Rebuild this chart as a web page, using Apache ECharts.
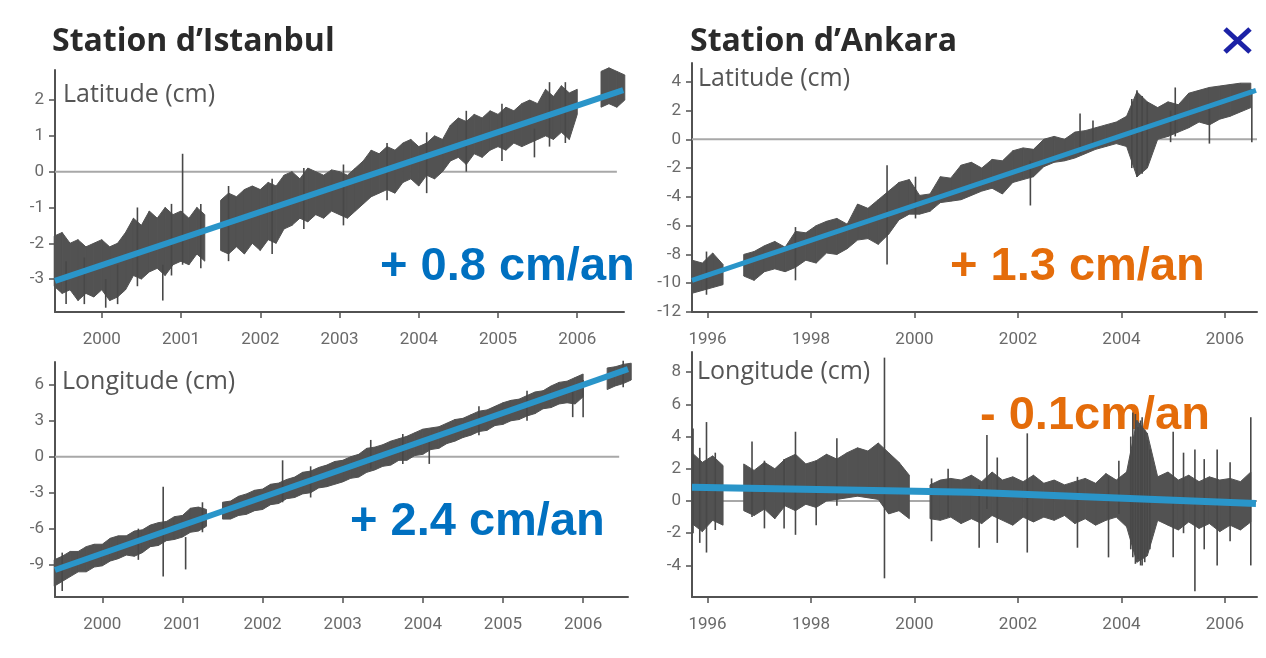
<!DOCTYPE html>
<html>
<head>
<meta charset="utf-8">
<title>Stations GPS Istanbul / Ankara</title>
<script src="https://cdn.jsdelivr.net/npm/echarts@6/dist/echarts.min.js"></script>
<style>
html, body { margin: 0; padding: 0; background: #fff; }
#chart { width: 1266px; height: 658px; }
</style>
</head>
<body>
<div id="chart"></div>
<script>
// ---- Istanbul (pas de 0,1 an) ----
var istYears = [1999.4, 1999.5, 1999.6, 1999.7, 1999.8, 1999.9, 2000.0, 2000.1, 2000.2, 2000.3,
	2000.4, 2000.5, 2000.6, 2000.7, 2000.8, 2000.9, 2001.0, 2001.1, 2001.2, 2001.3,
	2001.4, 2001.5, 2001.6, 2001.7, 2001.8, 2001.9, 2002.0, 2002.1, 2002.2, 2002.3,
	2002.4, 2002.5, 2002.6, 2002.7, 2002.8, 2002.9, 2003.0, 2003.1, 2003.2, 2003.3,
	2003.4, 2003.5, 2003.6, 2003.7, 2003.8, 2003.9, 2004.0, 2004.1, 2004.2, 2004.3,
	2004.4, 2004.5, 2004.6, 2004.7, 2004.8, 2004.9, 2005.0, 2005.1, 2005.2, 2005.3,
	2005.4, 2005.5, 2005.6, 2005.7, 2005.8, 2005.9, 2006.0, 2006.1, 2006.2, 2006.3,
	2006.4, 2006.5, 2006.6];
// latitude : bornes haute / basse du nuage gris
var istLatHi = [-1.8, -1.7, -2.0, -1.9, -2.1, -2.0, -1.9, -2.1, -2.0, -1.7,
	-1.3, -1.5, -1.1, -1.3, -1.0, -1.2, -1.1, -1.3, -1.0, -1.2,
	null, -0.8, -0.6, -0.7, -0.5, -0.4, -0.5, -0.3, -0.4, -0.1,
	0.0, -0.2, 0.1, 0.0, -0.1, 0.05, 0.0, -0.1, 0.1, 0.3,
	0.6, 0.5, 0.7, 0.6, 0.8, 0.9, 0.7, 0.8, 1.0, 0.9,
	1.3, 1.5, 1.4, 1.6, 1.5, 1.7, 1.6, 1.8, 1.7, 1.9,
	2.0, 1.9, 2.3, 2.1, 2.4, 2.2, 2.3, null, null, 2.8,
	2.9, 2.8, 2.7];
var istLatLo = [-3.2, -3.4, -3.3, -3.6, -3.4, -3.5, -3.3, -3.6, -3.5, -3.3,
	-2.9, -3.0, -2.8, -2.7, -2.9, -2.6, -2.5, -2.6, -2.3, -2.5,
	null, -2.2, -2.3, -2.1, -2.3, -2.0, -2.2, -1.9, -2.0, -1.6,
	-1.5, -1.3, -1.4, -1.2, -1.3, -1.1, -1.2, -1.3, -1.1, -0.9,
	-0.7, -0.6, -0.5, -0.6, -0.3, -0.2, -0.4, -0.1, -0.2, 0.0,
	0.3, 0.4, 0.2, 0.5, 0.4, 0.6, 0.7, 0.6, 0.8, 0.7,
	0.8, 0.9, 1.0, 0.9, 1.1, 0.9, 1.6, null, null, 1.8,
	1.9, 1.8, 2.0];
var istLatSpikes = [[1999.55, -3.7, -2.5], [1999.78, -3.7, -2.4], [2000.05, -3.8, -3.0], [2000.2, -3.7, -2.6],
	[2000.45, -3.2, -1.0], [2000.77, -3.6, -2.6], [2000.88, -2.9, -0.9], [2001.02, -2.6, 0.5],
	[2001.25, -2.7, -0.9], [2001.6, -2.5, -0.4], [2002.15, -2.3, -0.2], [2002.55, -1.6, 0.1],
	[2003.05, -1.5, 0.2], [2003.6, -0.8, 0.8], [2004.1, -0.6, 1.1], [2004.6, 0.0, 1.7],
	[2005.05, 0.3, 1.9], [2005.46, 0.4, 1.2], [2005.65, 0.7, 2.5], [2005.85, 0.8, 2.5]];
var istLatTrend = [[1999.41, -3.05], [2006.58, 2.28]];

// longitude
var istLonHi = [-8.6, -8.3, -7.9, -7.9, -7.5, -7.3, -7.3, -6.8, -6.6, -6.6,
	-6.2, -6.1, -5.7, -5.5, -5.4, -5.0, -4.9, -4.3, -4.2, -4.4,
	null, -3.8, -3.7, -3.3, -3.1, -2.8, -2.7, -2.3, -2.2, -1.9,
	-1.7, -1.3, -1.2, -0.9, -0.7, -0.4, -0.3, 0.0, 0.2, 0.7,
	0.8, 1.0, 1.3, 1.5, 1.7, 2.0, 2.3, 2.4, 2.5, 2.8,
	3.1, 3.2, 3.5, 3.8, 3.9, 4.2, 4.5, 4.7, 4.8, 5.1,
	5.4, 5.5, 5.9, 6.2, 6.3, 6.6, 6.9, null, null, 7.4,
	7.5, 7.7, 7.8];
var istLonLo = [-10.8, -10.4, -10.0, -9.6, -9.6, -9.2, -9.1, -8.7, -8.5, -8.2,
	-8.3, -8.0, -7.5, -7.4, -7.0, -6.9, -6.7, -6.3, -6.2, -5.8,
	null, -5.2, -5.2, -4.9, -4.8, -4.5, -4.4, -4.0, -3.9, -3.5,
	-3.4, -3.1, -3.0, -2.6, -2.5, -2.3, -2.1, -1.8, -1.7, -1.3,
	-1.1, -0.8, -0.7, -0.3, -0.3, 0.1, 0.2, 0.6, 0.7, 1.1,
	1.3, 1.6, 1.8, 2.1, 2.2, 2.6, 2.7, 3.0, 3.1, 3.4,
	3.6, 4.0, 4.1, 4.4, 4.5, 4.4, 5.0, null, null, 5.6,
	5.9, 6.1, 6.4];
var istLonSpikes = [[1999.5, -11.2, -8.0], [2000.45, -8.6, -6.0], [2000.76, -10.0, -2.5], [2001.04, -9.4, -6.7],
	[2001.25, -6.3, -3.8], [2002.25, -3.8, -0.3], [2002.6, -3.4, -0.8], [2003.35, -1.0, 1.4],
	[2003.75, -0.6, 1.9], [2004.08, -0.6, 1.5], [2004.7, 1.8, 4.2], [2005.3, 3.0, 5.5],
	[2005.87, 3.3, 5.5], [2006.0, 3.3, 6.4], [2006.5, 5.8, 8.0]];
var istLonTrend = [[1999.41, -9.45], [2006.56, 7.3]];

// ---- Ankara (pas de 0,2 an) ----
var ankYears = [1995.7, 1995.9, 1996.1, 1996.3, 1996.5, 1996.7, 1996.9, 1997.1, 1997.3, 1997.5,
	1997.7, 1997.9, 1998.1, 1998.3, 1998.5, 1998.7, 1998.9, 1999.1, 1999.3, 1999.5,
	1999.7, 1999.9, 2000.1, 2000.3, 2000.5, 2000.7, 2000.9, 2001.1, 2001.3, 2001.5,
	2001.7, 2001.9, 2002.1, 2002.3, 2002.5, 2002.7, 2002.9, 2003.1, 2003.3, 2003.5,
	2003.7, 2003.9, 2004.1, 2004.3, 2004.5, 2004.7, 2004.9, 2005.1, 2005.3, 2005.5,
	2005.7, 2005.9, 2006.1, 2006.3, 2006.5];
var ankLatHi = [-8.4, -8.6, -7.9, -8.7, null, -8.0, -7.8, -7.4, -7.1, -7.5,
	-6.4, -6.5, -6.0, -5.7, -5.5, -5.9, -4.5, -4.8, -4.2, -3.6,
	-3.0, -2.8, -3.9, -3.8, -2.6, -2.7, -1.8, -1.6, -2.0, -1.4,
	-1.5, -0.8, -0.6, -0.7, 0.0, 0.2, 0.0, 0.5, 0.6, 0.8,
	1.0, 1.2, 1.6, 3.3, 2.6, 2.2, 2.6, 2.4, 3.2, 3.4,
	3.6, 3.7, 3.8, 3.9, 3.9];
var ankLatLo = [-10.7, -10.5, -10.3, -10.1, null, -9.5, -9.8, -9.2, -9.0, -9.2,
	-8.9, -8.4, -8.6, -7.9, -8.0, -7.6, -7.0, -6.9, -7.3, -6.6,
	-5.6, -5.2, -5.2, -5.0, -4.4, -4.3, -4.2, -3.9, -3.6, -3.4,
	-3.8, -3.0, -2.8, -2.6, -1.9, -1.6, -1.5, -1.3, -1.0, -0.7,
	-0.5, -0.3, -0.5, -2.6, -2.0, 0.0, 0.2, 0.5, 0.8, 1.2,
	1.0, 1.4, 1.6, 1.9, 2.2];
var ankLatSpikes = [[1995.98, -10.8, -7.8], [1997.7, -9.8, -6.1], [1999.47, -8.7, -1.8], [2000.02, -5.5, -2.6],
	[2002.24, -4.6, -1.5], [2003.2, -1.0, 1.8], [2003.45, -0.5, 1.3], [2004.2, -2.0, 2.8],
	[2004.3, -2.6, 3.4], [2004.4, -2.4, 3.0], [2004.5, -1.8, 2.6], [2004.95, -0.2, 2.0],
	[2005.04, 0.2, 3.6], [2005.7, -0.3, 2.5], [2006.52, -0.2, 3.5]];
var ankLatTrend = [[1995.7, -9.8], [2006.6, 3.4]];

var ankLonHi = [3.0, 2.4, 2.8, 2.2, null, 2.3, 1.9, 2.4, 2.0, 2.6,
	2.9, 2.3, 2.5, 2.9, 2.6, 3.0, 3.3, 3.1, 3.6, 3.0,
	2.4, 1.6, null, 1.0, 1.3, 1.4, 1.3, 1.6, 1.2, 1.8,
	1.3, 1.5, 1.2, 1.6, 1.1, 1.3, 1.0, 1.2, 1.4, 1.1,
	1.7, 1.3, 1.8, 5.0, 4.2, 1.5, 1.8, 1.3, 1.6, 1.2,
	1.5, 1.3, 1.4, 1.2, 1.8];
var ankLonLo = [-1.4, -1.9, -1.2, -1.5, null, -0.6, -0.9, -0.5, -1.1, -0.3,
	-0.6, -0.2, -0.4, 0.0, 0.1, 0.2, 0.3, 0.2, 0.1, -0.8,
	-0.6, -1.1, null, -1.1, -1.2, -1.0, -1.4, -1.1, -1.4, -0.9,
	-1.2, -1.5, -1.0, -1.3, -1.0, -1.2, -0.9, -1.4, -1.1, -1.5,
	-1.2, -1.0, -1.6, -3.8, -3.4, -1.2, -1.5, -1.8, -1.3, -1.7,
	-1.4, -1.9, -1.5, -1.8, -1.3];
var ankLonSpikes = [[1995.72, -2.0, 4.5], [1995.85, -2.6, 3.3], [1995.98, -3.2, 4.9], [1996.15, -1.8, 3.0],
	[1996.86, -1.0, 3.7], [1997.1, -1.7, 2.5], [1997.48, -1.7, 2.6], [1997.7, -2.1, 4.3],
	[1998.1, -1.5, 2.5], [1998.5, -0.3, 3.9], [1999.42, -4.8, 8.9], [2000.33, -2.5, 1.4],
	[2000.65, -1.0, 2.0], [2001.25, -2.9, 1.0], [2001.4, -0.5, 4.1], [2001.6, -2.6, 2.7],
	[2002.18, -3.2, 4.2], [2003.15, -2.9, 1.5], [2003.75, -3.5, 1.5], [2003.95, -0.8, 2.5],
	[2004.18, -3.0, 4.0], [2004.22, -3.5, 5.5], [2004.27, -3.9, 5.4], [2004.32, -3.6, 4.6],
	[2004.37, -4.0, 5.0], [2004.4, -4.0, 5.2], [2004.45, -3.8, 4.4], [2004.5, -3.2, 3.8],
	[2004.55, -3.0, 3.2], [2005.0, -3.5, 4.3], [2005.2, -2.0, 3.0], [2005.42, -5.6, 3.2],
	[2005.6, -3.0, 2.6], [2005.85, -4.0, 3.2], [2006.1, -2.5, 2.4], [2006.5, -4.0, 5.2]];
var ankLonTrend = [[1995.7, 0.85], [2001.1, 0.55], [2006.6, -0.15]];

// graduations
var istTicks = [2000, 2001, 2002, 2003, 2004, 2005, 2006];
var ankTicks = [1996, 1998, 2000, 2002, 2004, 2006];
var istLatYTicks = [-3, -2, -1, 0, 1, 2];
var ankLatYTicks = [-12, -10, -8, -6, -4, -2, 0, 2, 4];
var istLonYTicks = [-9, -6, -3, 0, 3, 6];
var ankLonYTicks = [-4, -2, 0, 2, 4, 6, 8];

var GRAY = '#525252';
var TREND = '#2a95c9';
var LABEL = '#6a6a6a';

var chart = echarts.init(document.getElementById('chart'));

// nuage gris : un quadrilatere entre deux echantillons consecutifs
function bandSeries(idx, years, hi, lo) {
	var items = [];
	for (var i = 0; i + 1 < years.length; i++) {
		if (hi[i] == null || hi[i + 1] == null) continue;
		items.push([years[i], lo[i], hi[i], years[i + 1], lo[i + 1], hi[i + 1]]);
	}
	return {
		type: 'custom',
		xAxisIndex: idx,
		yAxisIndex: idx,
		z: 2,
		silent: true,
		data: items,
		encode: { x: [0, 3], y: [1, 2, 4, 5] },
		renderItem: function(params, api) {
			var a = api.coord([api.value(0), api.value(1)]);
			var b = api.coord([api.value(0), api.value(2)]);
			var c = api.coord([api.value(3), api.value(5)]);
			var d = api.coord([api.value(3), api.value(4)]);
			return {
				type: 'polygon',
				shape: { points: [a, b, c, d] },
				style: { fill: GRAY, stroke: GRAY, lineWidth: 1 }
			};
		}
	};
}

// pics isoles
function spikeSeries(idx, spikes) {
	return {
		type: 'custom',
		xAxisIndex: idx,
		yAxisIndex: idx,
		z: 3,
		silent: true,
		data: spikes,
		encode: { x: 0, y: [1, 2] },
		renderItem: function(params, api) {
			var p1 = api.coord([api.value(0), api.value(1)]);
			var p2 = api.coord([api.value(0), api.value(2)]);
			return {
				type: 'line',
				shape: { x1: p1[0], y1: p1[1], x2: p2[0], y2: p2[1] },
				style: { stroke: '#484848', lineWidth: 1.6 }
			};
		}
	};
}

function trendSeries(idx, data, width) {
	return {
		type: 'line',
		xAxisIndex: idx,
		yAxisIndex: idx,
		z: 5,
		silent: true,
		symbol: 'none',
		data: data,
		lineStyle: { color: TREND, width: width }
	};
}

function zeroSeries(idx, xmin, xmax) {
	return {
		type: 'line',
		xAxisIndex: idx,
		yAxisIndex: idx,
		z: 1,
		silent: true,
		symbol: 'none',
		data: [[xmin, 0], [xmax, 0]],
		lineStyle: { color: '#a8a8a8', width: 2 }
	};
}

function xAxisOf(idx, min, max, ticks) {
	return {
		gridIndex: idx,
		type: 'value',
		min: min,
		max: max,
		axisLine: { show: true, onZero: false, lineStyle: { color: GRAY, width: 2 } },
		axisTick: { show: true, length: 6, customValues: ticks, lineStyle: { color: GRAY, width: 1.5 } },
		axisLabel: {
			customValues: ticks,
			color: LABEL,
			fontSize: 17,
			fontFamily: 'Roboto',
			margin: 19,
			formatter: function(v) { return String(v); }
		},
		splitLine: { show: false }
	};
}

function yAxisOf(idx, min, max, ticks) {
	return {
		gridIndex: idx,
		type: 'value',
		min: min,
		max: max,
		axisLine: { show: true, onZero: false, lineStyle: { color: GRAY, width: 2 } },
		axisTick: { show: true, length: 6, customValues: ticks, lineStyle: { color: GRAY, width: 1.5 } },
		axisLabel: {
			customValues: ticks,
			color: LABEL,
			fontSize: 17,
			fontFamily: 'Roboto',
			margin: 11,
			formatter: function(v) { return String(v); }
		},
		splitLine: { show: false }
	};
}

function text(x, y, str, font, color) {
	return {
		type: 'text',
		x: x,
		y: y,
		silent: true,
		style: {
			text: str,
			font: font,
			fill: color,
			align: 'left',
			verticalAlign: 'middle',
			textAlign: 'left',
			textVerticalAlign: 'middle'
		}
	};
}

var option = {
	animation: false,
	backgroundColor: '#ffffff',
	grid: [
		{ left: 55, top: 70, width: 569, height: 242 },
		{ left: 692, top: 63, width: 565, height: 249 },
		{ left: 55, top: 362, width: 573, height: 235 },
		{ left: 692, top: 352, width: 565, height: 245 }
	],
	xAxis: [
		xAxisOf(0, 1999.41, 2006.59, istTicks),
		xAxisOf(1, 1995.7, 2006.62, ankTicks),
		xAxisOf(2, 1999.41, 2006.56, istTicks),
		xAxisOf(3, 1995.7, 2006.62, ankTicks)
	],
	yAxis: [
		yAxisOf(0, -3.92, 2.84, istLatYTicks),
		yAxisOf(1, -12.0, 5.3, ankLatYTicks),
		yAxisOf(2, -11.7, 7.9, istLonYTicks),
		yAxisOf(3, -5.96, 9.25, ankLonYTicks)
	],
	series: [
		zeroSeries(0, 1999.41, 2006.5),
		bandSeries(0, istYears, istLatHi, istLatLo),
		spikeSeries(0, istLatSpikes),
		trendSeries(0, istLatTrend, 6),

		zeroSeries(1, 1995.7, 2006.62),
		bandSeries(1, ankYears, ankLatHi, ankLatLo),
		spikeSeries(1, ankLatSpikes),
		trendSeries(1, ankLatTrend, 5),

		zeroSeries(2, 1999.41, 2006.45),
		bandSeries(2, istYears, istLonHi, istLonLo),
		spikeSeries(2, istLonSpikes),
		trendSeries(2, istLonTrend, 6),

		zeroSeries(3, 1995.7, 2006.62),
		bandSeries(3, ankYears, ankLonHi, ankLonLo),
		spikeSeries(3, ankLonSpikes),
		trendSeries(3, ankLonTrend, 7)
	],
	graphic: [
		text(52, 42, 'Station d\u2019Istanbul', 'bold 32px "Open Sans"', '#2a2a2a'),
		text(690, 42, 'Station d\u2019Ankara', 'bold 32px "Open Sans"', '#2a2a2a'),
		text(63, 95, 'Latitude (cm)', '25px "Open Sans"', '#555555'),
		text(698, 79, 'Latitude (cm)', '25px "Open Sans"', '#555555'),
		text(62, 382, 'Longitude (cm)', '25px "Open Sans"', '#555555'),
		text(697, 372, 'Longitude (cm)', '25px "Open Sans"', '#555555'),
		text(380, 267, '+ 0.8 cm/an', 'bold 47px "Liberation Sans"', '#0070c0'),
		text(950, 267, '+ 1.3 cm/an', 'bold 47px "Liberation Sans"', '#e46c0a'),
		text(350, 522, '+ 2.4 cm/an', 'bold 47px "Liberation Sans"', '#0070c0'),
		text(980, 416, '- 0.1cm/an', 'bold 47px "Liberation Sans"', '#e46c0a'),
		{ type: 'line', silent: true, shape: { x1: 1225, y1: 29, x2: 1250, y2: 52 }, style: { stroke: '#1c22a6', lineWidth: 5 } },
		{ type: 'line', silent: true, shape: { x1: 1250, y1: 29, x2: 1225, y2: 52 }, style: { stroke: '#1c22a6', lineWidth: 5 } }
	]
};

chart.setOption(option);
window.onresize = function() {
	chart.resize();
};
</script>
</body>
</html>
